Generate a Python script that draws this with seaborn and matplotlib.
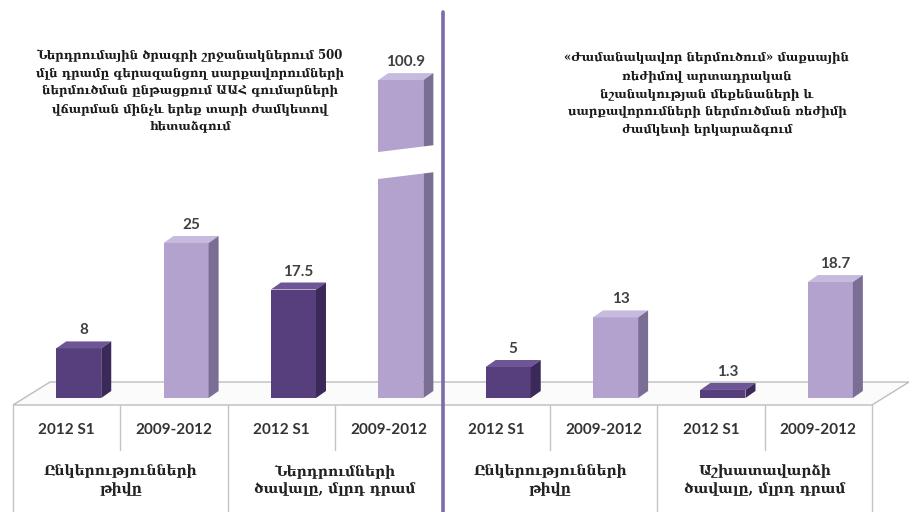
import numpy as np
import pandas as pd
import matplotlib
matplotlib.use("Agg")
import matplotlib.pyplot as plt
import seaborn as sns
from matplotlib.patches import Polygon
from matplotlib.lines import Line2D
from matplotlib.transforms import IdentityTransform

# ---------------- data ----------------
positions = [0, 1, 2, 3, 4, 5, 6, 7]
periods = ["2012 S1", "2009-2012", "2012 S1", "2009-2012",
           "2012 S1", "2009-2012", "2012 S1", "2009-2012"]
values = [8, 25, 17.5, 100.9, 5, 13, 1.3, 18.7]
value_labels = ["8", "25", "17.5", "100.9", "5", "13", "1.3", "18.7"]
group_labels = ["Ընկերությունների\nթիվը",
                "Ներդրումների\nծավալը, մլրդ դրամ",
                "Ընկերությունների\nթիվը",
                "Աշխատավարձի\nծավալը, մլրդ դրամ"]
title_left = ("Ներդրումային ծրագրի շրջանակներում 500\n"
              "մլն դրամը գերազանցող սարքավորումների\n"
              "ներմուծման ընթացքում ԱԱՀ գումարների\n"
              "վճարման մինչև երեք տարի ժամկետով\n"
              "հետաձգում")
title_right = ("«Ժամանակավոր ներմուծում» մաքսային\n"
               "ռեժիմով արտադրական\n"
               "նշանակության մեքենաների և\n"
               "սարքավորումների ներմուծման ռեժիմի\n"
               "ժամկետի երկարաձգում")

W, H = 914, 512
DPI = 100
sns.set_theme(style="white")
plt.rcParams["font.family"] = ["DejaVu Serif", "DejaVu Sans"]

fig = plt.figure(figsize=(W / DPI, H / DPI), dpi=DPI)
fig.patch.set_facecolor("white")
ID = IdentityTransform()


def D(x, y):
    """pixel (from top-left) -> display coords"""
    return (x, H - y)


front_colors = {"2012 S1": "#573e7c", "2009-2012": "#b2a2cd"}
side_colors = {"2012 S1": "#3b2a59", "2009-2012": "#7b6e95"}
top_colors = {"2012 S1": "#6e5696", "2009-2012": "#c6bade"}

df = pd.DataFrame({"pos": positions, "period": periods, "value": values})

BREAK, K = 30.0, 0.3


def fwd(y):
    y = np.asarray(y, dtype=float)
    return np.where(y <= BREAK, y, BREAK + (y - BREAK) * K)


def inv(d):
    d = np.asarray(d, dtype=float)
    return np.where(d <= BREAK, d, BREAK + (d - BREAK) / K)


base_y = 398      # pixel row of the bar bottoms
ppu = 6.2         # pixels per (display) unit
ax_left, ax_right = 25, 884
ax = fig.add_axes([ax_left / W, (H - base_y) / H, (ax_right - ax_left) / W, (base_y - 1) / H])
ax.set_yscale("function", functions=(fwd, inv))
sns.barplot(data=df, x="pos", y="value", hue="period", palette=front_colors,
            dodge=False, width=0.42, saturation=1, linewidth=0, ax=ax, legend=False)
ax.set_xlim(-0.5, 7.5)
ax.set_ylim(0, float(inv((base_y - 1) / ppu)))
ax.axis("off")

# ---------------- floor ----------------
col_w = (ax_right - ax_left) / 8
x_first = ax_left - 12
x_last = x_first + 8 * col_w
fx0, fy = D(x_first, 405)
fx1, _ = D(x_last, 405)
floor = Polygon([(fx0, fy), (fx1, fy), (fx1 + 37, fy + 23), (fx0 + 37, fy + 23)],
                closed=True, transform=ID, facecolor="#fbfbfb", edgecolor="#bdbdbd",
                lw=1.0, zorder=-1)
fig.add_artist(floor)

# ---------------- 3D faces ----------------
DX, DY = 10, 7
for p in ax.patches:
    x0 = p.get_x()
    x1 = x0 + p.get_width()
    h = p.get_height()
    if h <= 0:
        continue
    idx = int(round((x0 + x1) / 2))
    per = periods[idx]
    (a0, b0) = ax.transData.transform((x0, 0))
    (a1, b1) = ax.transData.transform((x1, h))
    top = Polygon([(a0, b1), (a1, b1), (a1 + DX, b1 + DY), (a0 + DX, b1 + DY)],
                  closed=True, transform=ID, facecolor=top_colors[per], edgecolor="none", zorder=2)
    side = Polygon([(a1, b0), (a1 + DX, b0 + DY), (a1 + DX, b1 + DY), (a1, b1)],
                   closed=True, transform=ID, facecolor=side_colors[per], edgecolor="none", zorder=2)
    fig.add_artist(top)
    fig.add_artist(side)
    fig.text((a0 + a1) / 2 + DX / 2, b1 + DY + 4, value_labels[idx], transform=ID,
             ha="center", va="bottom", fontsize=11, fontweight="bold",
             color="#404040", family=["Lato", "DejaVu Sans"], zorder=3)
    if values[idx] > BREAK:
        yb = ax.transData.transform((0, float(inv(37.5))))[1]
        L, R = a0 - 4, a1 + DX + 6
        band = Polygon([(L, yb - 14), (R, yb - 14 + 8), (R, yb + 13 + 8), (L, yb + 13)],
                       closed=True, transform=ID, facecolor="white", edgecolor="none", zorder=3)
        fig.add_artist(band)

# ---------------- table ----------------
grid_c = "#c4c4c4"
for i in range(9):
    xx = x_first + i * col_w
    y_end = 512 if i % 2 == 0 else 450
    (lx, ly0) = D(xx, 405)
    (_, ly1) = D(xx, y_end)
    fig.add_artist(Line2D([lx, lx], [ly0, ly1], transform=ID, color=grid_c, lw=1.0, zorder=1))

for i in range(8):
    cx = x_first + (i + 0.5) * col_w
    tx, ty = D(cx, 430)
    fig.text(tx, ty, periods[i], transform=ID, ha="center", va="center",
             fontsize=11, fontweight="bold", color="#333333", family=["Lato", "DejaVu Sans"])

for g in range(4):
    cx = x_first + (2 * g + 1) * col_w
    tx, ty = D(cx, 480)
    fig.text(tx, ty, group_labels[g], transform=ID, ha="center", va="center",
             fontsize=10, fontweight="bold", color="#222222", linespacing=1.3)

# ---------------- titles ----------------
tx, ty = D(190, 91)
fig.text(tx, ty, title_left, transform=ID, ha="center", va="center",
         fontsize=8.5, fontweight="bold", color="#1a1a1a", linespacing=1.5)
tx, ty = D(707, 94)
fig.text(tx, ty, title_right, transform=ID, ha="center", va="center",
         fontsize=8.5, fontweight="bold", color="#1a1a1a", linespacing=1.5)

# ---------------- divider ----------------
dvx = x_first + 4 * col_w
(vx, vy0) = D(dvx, 12)
(_, vy1) = D(dvx, 512)
fig.add_artist(Line2D([vx, vx], [vy0, vy1], transform=ID, color="#7d6bab", lw=2.6, zorder=4))

fig.savefig("out.png", dpi=DPI, facecolor="white")
